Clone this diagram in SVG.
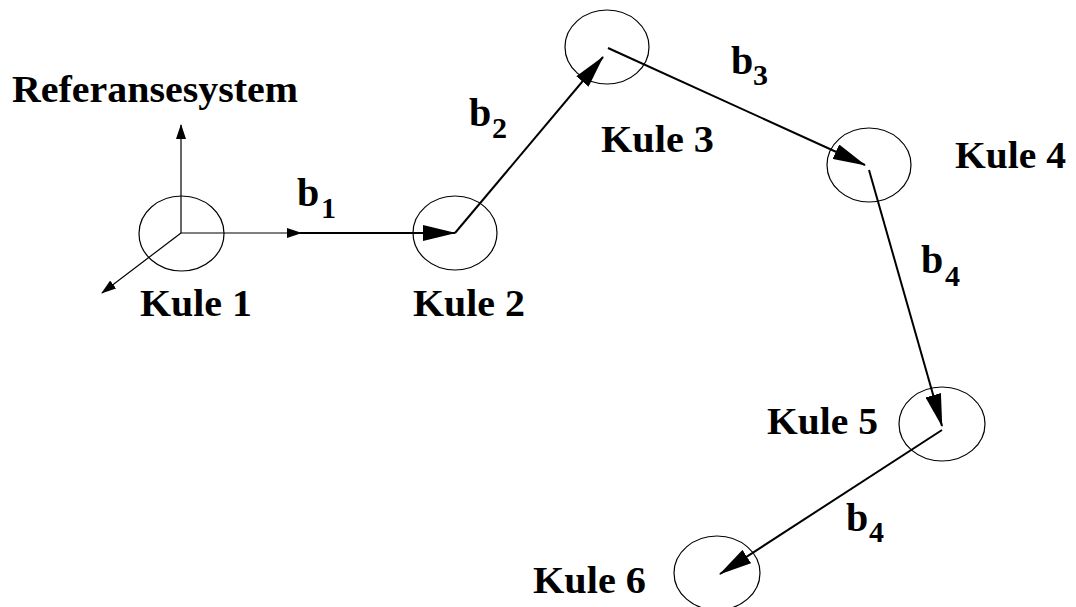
<svg xmlns="http://www.w3.org/2000/svg" width="1076" height="607" viewBox="0 0 1076 607">
  <style>
    .ball { fill: none; stroke: #000; stroke-width: 1.2; }
    .axis { stroke: #000; stroke-width: 1.2; fill: none; marker-end: url(#tipSmall); }
    .vec { stroke: #000; stroke-width: 2; fill: none; marker-end: url(#tipLarge); }
    .lbl { font-family: "Liberation Serif", "Times New Roman", serif; font-weight: bold; font-size: 37px; fill: #000; }
    .b { font-family: "Liberation Serif", "Times New Roman", serif; font-weight: bold; font-size: 40px; fill: #000; }
    .sub { font-family: "Liberation Serif", "Times New Roman", serif; font-weight: bold; font-size: 30px; fill: #000; }
  </style>
  <defs>
    <marker id="tipLarge" viewBox="0 0 33 16" refX="32" refY="8" markerWidth="33" markerHeight="16" markerUnits="userSpaceOnUse" orient="auto">
      <path d="M0,0 L33,8 L0,16 Z" fill="#000"/>
    </marker>
    <marker id="tipSmall" viewBox="0 0 15 10" refX="14" refY="5" markerWidth="15" markerHeight="10" markerUnits="userSpaceOnUse" orient="auto">
      <path d="M0,0 L15,5 L0,10 Z" fill="#000"/>
    </marker>
  </defs>

  <rect width="1076" height="607" fill="#fff"/>

  <!-- reference frame at ball 1 -->
  <g id="frame">
    <line class="axis" x1="181" y1="233" x2="181" y2="125"/>
    <line class="axis" x1="181" y1="233" x2="301" y2="233"/>
    <line class="axis" x1="181" y1="233" x2="102" y2="293"/>
    <text class="lbl" x="12" y="102" textLength="286" lengthAdjust="spacingAndGlyphs">Referansesystem</text>
  </g>

  <g id="kule1">
    <ellipse class="ball" cx="181.5" cy="233.5" rx="42.5" ry="37.5"/>
    <text class="lbl" x="140" y="316" textLength="112" lengthAdjust="spacingAndGlyphs">Kule 1</text>
  </g>
  <g id="kule2">
    <ellipse class="ball" cx="455" cy="233" rx="42" ry="37"/>
    <text class="lbl" x="413" y="316" textLength="112" lengthAdjust="spacingAndGlyphs">Kule 2</text>
  </g>
  <g id="kule3">
    <ellipse class="ball" cx="607" cy="47" rx="42" ry="37"/>
    <text class="lbl" x="601" y="152" textLength="113" lengthAdjust="spacingAndGlyphs">Kule 3</text>
  </g>
  <g id="kule4">
    <ellipse class="ball" cx="869" cy="165" rx="42" ry="37"/>
    <text class="lbl" x="955" y="168" textLength="111" lengthAdjust="spacingAndGlyphs">Kule 4</text>
  </g>
  <g id="kule5">
    <ellipse class="ball" cx="942" cy="424" rx="43" ry="37"/>
    <text class="lbl" x="767" y="434" textLength="111" lengthAdjust="spacingAndGlyphs">Kule 5</text>
  </g>
  <g id="kule6">
    <ellipse class="ball" cx="717" cy="573" rx="43" ry="37"/>
    <text class="lbl" x="533" y="593" textLength="113" lengthAdjust="spacingAndGlyphs">Kule 6</text>
  </g>

  <!-- bond vectors between consecutive balls -->
  <g id="connectors">
    <line class="vec" x1="300" y1="233" x2="455" y2="233"/>
    <line class="vec" x1="455" y1="233" x2="603" y2="57"/>
    <line class="vec" x1="608" y1="48" x2="865" y2="165"/>
    <line class="vec" x1="869" y1="170" x2="942" y2="426"/>
    <line class="vec" x1="942" y1="430" x2="720" y2="574"/>

    <text class="b" x="297" y="206">b</text><text class="sub" x="321" y="218">1</text>
    <text class="b" x="469" y="126">b</text><text class="sub" x="492" y="138">2</text>
    <text class="b" x="731" y="74">b</text><text class="sub" x="753" y="85">3</text>
    <text class="b" x="921" y="273">b</text><text class="sub" x="945" y="286">4</text>
    <text class="b" x="846" y="531">b</text><text class="sub" x="869" y="542">4</text>
  </g>
</svg>
